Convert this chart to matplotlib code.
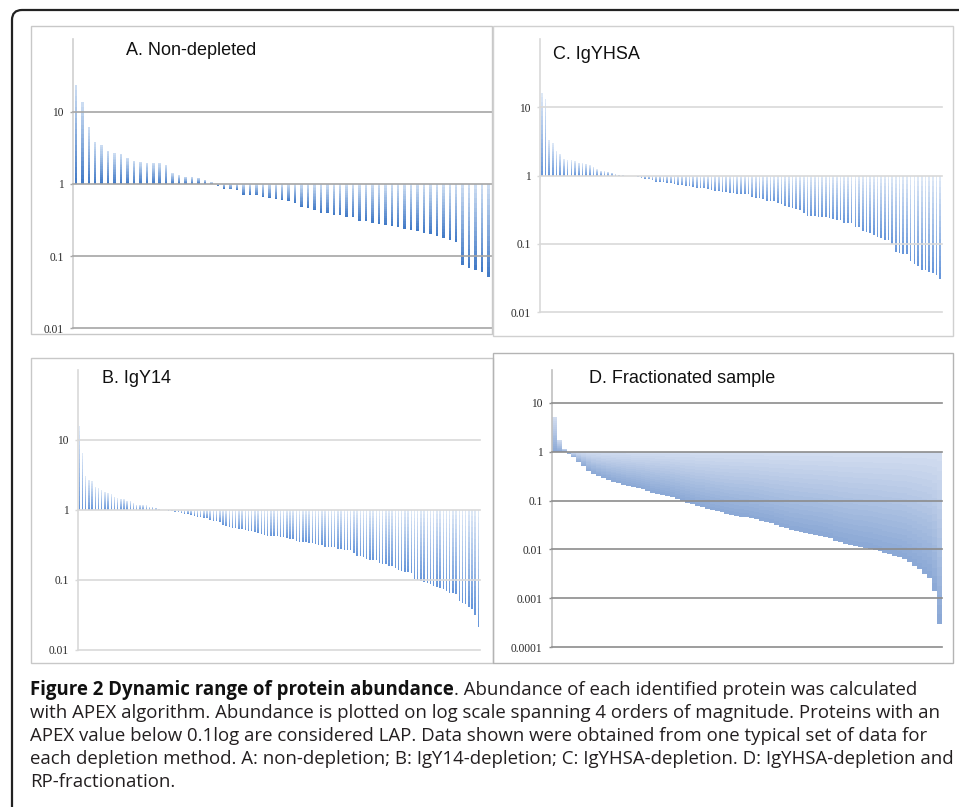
import numpy as np
import matplotlib
matplotlib.use("Agg")
import matplotlib.pyplot as plt
import matplotlib.colors as mcolors
from matplotlib.patches import FancyBboxPatch, Rectangle
from matplotlib.transforms import IdentityTransform
from matplotlib.ticker import NullLocator

# APEX abundance per identified protein, sorted
nondepleted = [23.6, 13.5, 6.2, 3.8, 3.46, 2.89, 2.63, 2.62, 2.29, 2.1,
               2.01, 1.97, 1.95, 1.93, 1.81, 1.40, 1.32, 1.26, 1.24, 1.21,
               1.14, 1.05, 0.94, 0.86, 0.835, 0.82, 0.71, 0.705, 0.69, 0.655,
               0.63, 0.61, 0.59, 0.57, 0.55, 0.47, 0.466, 0.43, 0.40, 0.39,
               0.37, 0.365, 0.35, 0.343, 0.31, 0.305, 0.29, 0.28, 0.27, 0.26,
               0.25, 0.24, 0.23, 0.22, 0.21, 0.20, 0.19, 0.177, 0.166, 0.156,
               0.075, 0.068, 0.065, 0.06, 0.051]

igy14 = [15.9, 6.6, 3.04, 2.72, 2.58, 2.16, 2.05, 1.92, 1.83, 1.75,
         1.70, 1.55, 1.47, 1.45, 1.44, 1.36, 1.35, 1.27, 1.19, 1.19,
         1.18, 1.17, 1.12, 1.12, 1.08, 1.03, 1.0, 0.99, 0.98, 0.96,
         0.94, 0.93, 0.90, 0.89, 0.89, 0.86, 0.83, 0.80, 0.79, 0.78,
         0.77, 0.72, 0.70, 0.70, 0.68, 0.62, 0.59, 0.57, 0.56, 0.55,
         0.53, 0.53, 0.51, 0.50, 0.50, 0.48, 0.47, 0.45, 0.44, 0.43,
         0.42, 0.42, 0.42, 0.415, 0.41, 0.40, 0.39, 0.39, 0.355, 0.35,
         0.35, 0.347, 0.34, 0.336, 0.33, 0.32, 0.315, 0.30, 0.30, 0.30,
         0.295, 0.28, 0.275, 0.27, 0.27, 0.267, 0.24, 0.22, 0.22, 0.216,
         0.198, 0.196, 0.194, 0.19, 0.176, 0.172, 0.17, 0.16, 0.157, 0.149,
         0.141, 0.136, 0.132, 0.128, 0.125, 0.105, 0.099, 0.096, 0.094, 0.092,
         0.087, 0.083, 0.08, 0.077, 0.074, 0.07, 0.066, 0.065, 0.064, 0.05,
         0.047, 0.046, 0.041, 0.038, 0.032, 0.021]

igyhsa = [16.4, 13.2, 3.37, 2.97, 2.32, 2.10, 1.75, 1.71, 1.71, 1.64,
          1.55, 1.53, 1.50, 1.42, 1.34, 1.24, 1.18, 1.16, 1.14, 1.11,
          1.05, 1.02, 1.01, 0.995, 0.99, 0.98, 0.96, 0.91, 0.90, 0.88,
          0.85, 0.82, 0.82, 0.81, 0.79, 0.78, 0.76, 0.74, 0.72, 0.71,
          0.70, 0.69, 0.66, 0.65, 0.65, 0.64, 0.62, 0.60, 0.59, 0.58,
          0.57, 0.56, 0.55, 0.545, 0.54, 0.53, 0.53, 0.48, 0.47, 0.47,
          0.45, 0.43, 0.43, 0.42, 0.40, 0.385, 0.36, 0.35, 0.34, 0.32,
          0.31, 0.28, 0.26, 0.257, 0.257, 0.25, 0.25, 0.245, 0.243, 0.23,
          0.227, 0.22, 0.20, 0.20, 0.20, 0.175, 0.174, 0.155, 0.147, 0.145,
          0.137, 0.127, 0.12, 0.113, 0.112, 0.098, 0.076, 0.073, 0.071, 0.07,
          0.056, 0.05, 0.047, 0.041, 0.041, 0.039, 0.037, 0.035, 0.031]

fractionated = [5.0, 1.75, 1.15, 0.9, 0.76, 0.6, 0.5, 0.40, 0.35, 0.315,
                0.285, 0.26, 0.243, 0.228, 0.212, 0.197, 0.187, 0.179, 0.17, 0.158,
                0.145, 0.139, 0.131, 0.125, 0.117, 0.107, 0.098, 0.09, 0.084, 0.079,
                0.074, 0.068, 0.064, 0.06, 0.057, 0.054, 0.051, 0.049, 0.047, 0.046,
                0.043, 0.041, 0.038, 0.036, 0.034, 0.031, 0.029, 0.027, 0.025, 0.024,
                0.023, 0.022, 0.021, 0.020, 0.019, 0.018, 0.017, 0.0152, 0.0142, 0.0132,
                0.0125, 0.0118, 0.0113, 0.0109, 0.0104, 0.0097, 0.0091, 0.0084, 0.0079, 0.0074,
                0.007, 0.0064, 0.0055, 0.0047, 0.0039, 0.0032, 0.0026, 0.0014, 0.0003]

titles = ["A. Non-depleted", "B. IgY14", "C. IgYHSA", "D. Fractionated sample"]

caption_bold = "Figure 2 Dynamic range of protein abundance"
caption_lines = [
    ". Abundance of each identified protein was calculated",
    "with APEX algorithm. Abundance is plotted on log scale spanning 4 orders of magnitude. Proteins with an",
    "APEX value below 0.1log are considered LAP. Data shown were obtained from one typical set of data for",
    "each depletion method. A: non-depletion; B: IgY14-depletion; C: IgYHSA-depletion. D: IgYHSA-depletion and",
    "RP-fractionation.",
]

W, H = 959, 807
fig = plt.figure(figsize=(W / 100, H / 100), dpi=100)
fig.patch.set_facecolor("white")
cap_font = "Open Sans"


def px_axes(left, top, right, bottom):
    return fig.add_axes([left / W, 1 - bottom / H, (right - left) / W, (bottom - top) / H])


def frame(left, top, right, bottom, color):
    fig.add_artist(Rectangle((left / W, 1 - bottom / H), (right - left) / W, (bottom - top) / H,
                             transform=fig.transFigure, fill=False, edgecolor=color, linewidth=1.0))


def gradient_bars(ax, values, width, dark, light, nseg=18):
    # every bar starts at 1, light at its top end, dark at its bottom end
    c0 = np.array(mcolors.to_rgb(dark))
    c1 = np.array(mcolors.to_rgb(light))
    xs, bottoms, heights, cols = [], [], [], []
    for i, v in enumerate(values):
        edges = np.geomspace(min(v, 1.0), max(v, 1.0), nseg + 1)
        for k in range(nseg):
            t = (k + 0.5) / nseg
            xs.append(i)
            bottoms.append(edges[k])
            heights.append(edges[k + 1] - edges[k])
            cols.append(c0 + (c1 - c0) * t)
    ax.bar(xs, heights, bottom=bottoms, width=width, color=cols,
           linewidth=0, antialiased=False, zorder=2)


def panel(box, values, ymin, ymax, width, dark, light, grid_color, axis_color):
    ax = px_axes(*box)
    gradient_bars(ax, values, width, dark, light)
    ax.set_yscale("log")
    ax.set_ylim(ymin, ymax)
    ax.set_xlim(-0.5, len(values) - 0.5)
    ticks = [10.0 ** e for e in range(int(round(np.log10(ymin))), 2)]
    for t in ticks:
        ax.axhline(t, color=grid_color, lw=1.2, zorder=3, clip_on=False)
    ax.set_yticks(ticks)
    ax.set_yticklabels([f"{t:g}" for t in ticks])
    ax.yaxis.set_minor_locator(NullLocator())
    ax.set_xticks([])
    for s in ["top", "right", "bottom"]:
        ax.spines[s].set_visible(False)
    ax.spines["left"].set_color(axis_color)
    ax.spines["left"].set_linewidth(1.2)
    ax.tick_params(axis="y", length=2.5, width=1, color=grid_color, pad=4,
                   labelsize=8.3, labelcolor="#2a2a2a", labelfontfamily="Liberation Serif")
    ax.patch.set_alpha(0)
    return ax


# panel frames
frame(30.7, 26, 492, 334, "#c8c8c8")
frame(493, 26, 953, 336, "#d0d0d0")
frame(30.7, 357.7, 492.7, 663, "#c8c8c8")
frame(493, 353.3, 953, 662.7, "#b4b4b4")

panel((72.7, 39.3, 491.7, 328.3), nondepleted, 0.01, 100, 0.38,
      "#3f78c6", "#cfdff3", "#a6a6a6", "#d0d0d0")
panel((77.7, 370, 480, 650), igy14, 0.01, 100, 0.45,
      "#6595da", "#e0eaf7", "#d9d9d9", "#d9d9d9")
panel((540, 39.3, 942, 312), igyhsa, 0.01, 100, 0.45,
      "#6595da", "#e0eaf7", "#d9d9d9", "#d9d9d9")
panel((551.7, 370, 941.7, 647.3), fractionated, 1e-4, 46.6, 1.0,
      "#8aa7d5", "#d3def0", "#8c8c8c", "#c0c0c0")

title_pos = [(126, 55), (101.7, 383.3), (552.7, 59.3), (589.3, 382.7)]
for (x, y), t in zip(title_pos, titles):
    fig.text(x / W, 1 - y / H, t, fontsize=13, family="Liberation Sans",
             va="baseline", color="#111111")

# outer rounded border, only top and left edges fall inside the picture
fig.add_artist(FancyBboxPatch((12, -30), 1000, H - 10 + 30,
                              boxstyle="round,pad=0,rounding_size=10",
                              transform=IdentityTransform(), fill=False,
                              edgecolor="#222222", linewidth=1.6))

# caption, size fitted so the widest line ends at x = 953 px
renderer = fig.canvas.get_renderer()
widths = []
for line in caption_lines[1:4]:
    probe = fig.text(0, 0, line, fontsize=12, family=cap_font)
    widths.append(probe.get_window_extent(renderer).width)
    probe.remove()
fs = 12 * 921 / max(widths)

baselines = [695, 718, 741, 764, 787]
x0 = 30
tb = fig.text(x0 / W, 1 - baselines[0] / H, caption_bold, fontsize=fs, family=cap_font,
              weight="bold", va="baseline", color="#111111")
wb = tb.get_window_extent(renderer).width
fig.text((x0 + wb) / W, 1 - baselines[0] / H, caption_lines[0], fontsize=fs,
         family=cap_font, va="baseline", color="#231f20")
for line, y in zip(caption_lines[1:], baselines[1:]):
    fig.text(x0 / W, 1 - y / H, line, fontsize=fs, family=cap_font,
             va="baseline", color="#231f20")

fig.savefig("out.png", dpi=100)
